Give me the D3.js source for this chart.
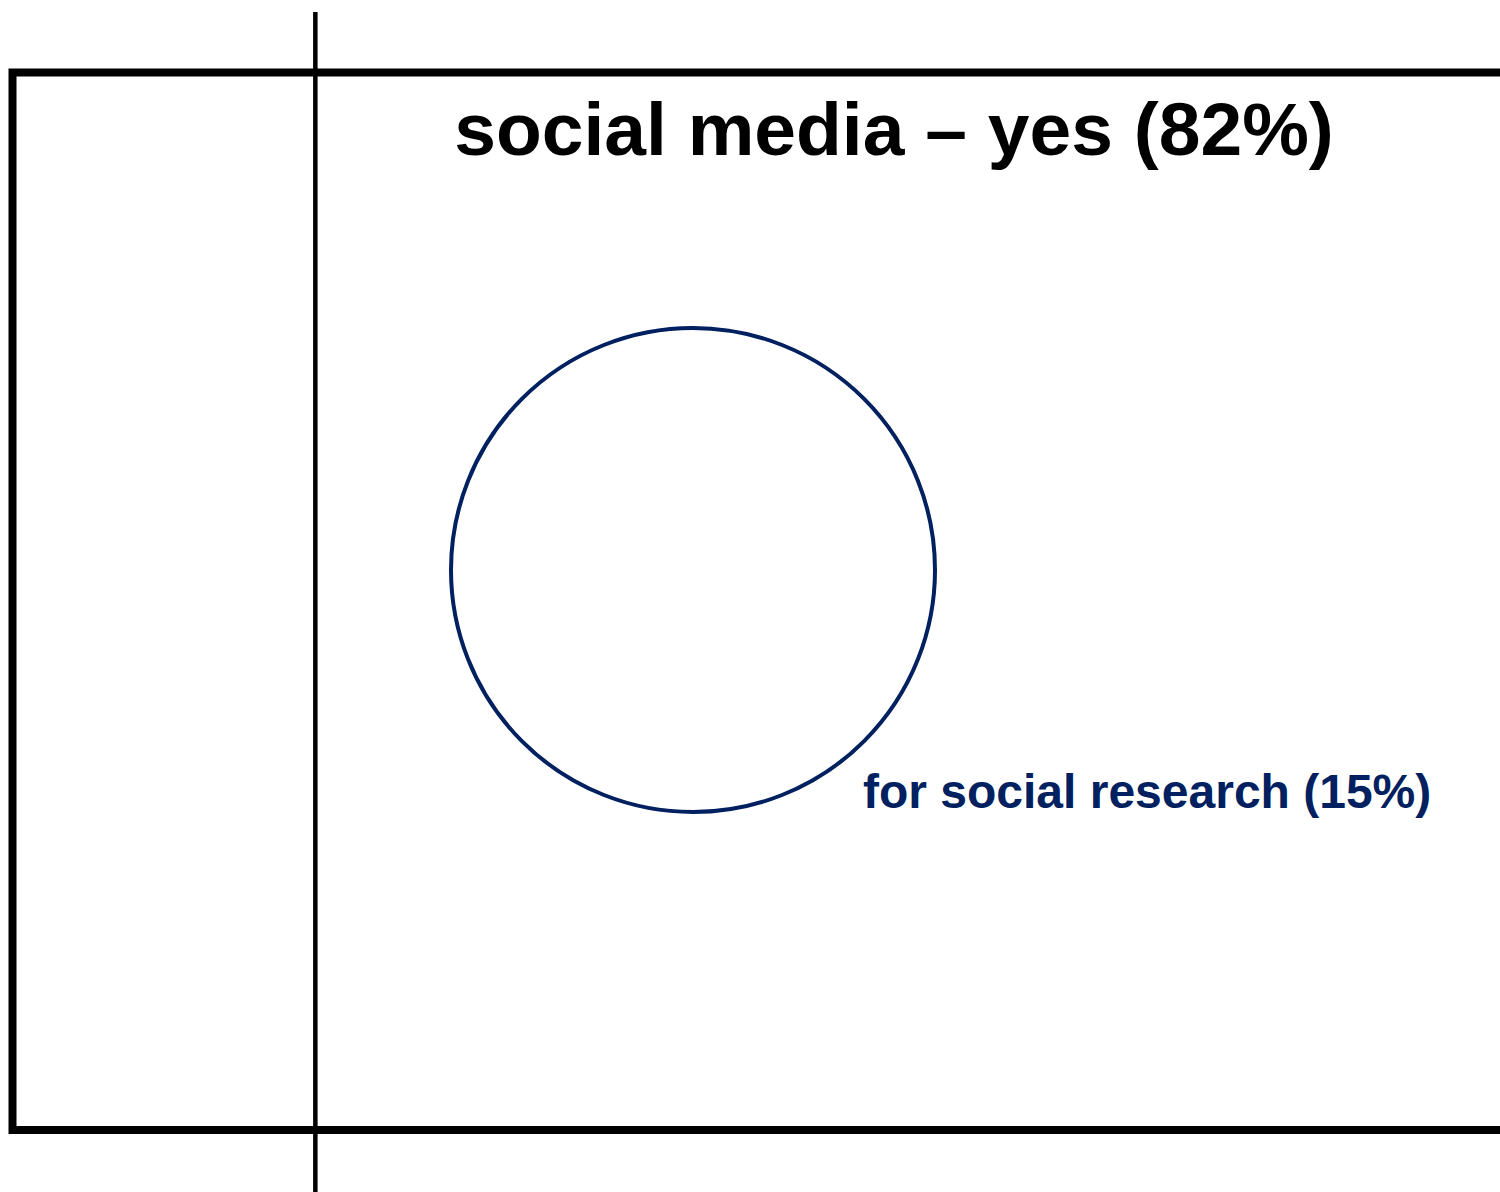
<!DOCTYPE html>
<html>
<head>
<meta charset="utf-8">
<script src="https://cdn.jsdelivr.net/npm/d3@7"></script>
<style>
body { margin: 0; background: #fff; }
</style>
</head>
<body>
<script>
// data
var groups = ["no", "yes"];
var shares = [18, 82];
var titleText = "social media \u2013 yes (82%)";
var subsets = ["for social research"];
var subsetShares = [15];

var width = 1500;
var height = 1192;
var navy = "#002060";

var canvas = d3.select("body")
            .append("svg")
            .attr("width", width)
            .attr("height", height);

// whole population runs off the right edge of the page
var x = d3.scaleLinear().domain([0, 100]).range([12.5, 1695]);
var y = d3.scaleLinear().domain([0, 1]).range([72.5, 1130]);

canvas.append("rect")
      .attr("x", x(0))
      .attr("y", y(0))
      .attr("width", x(100) - x(0))
      .attr("height", y(1) - y(0))
      .attr("fill", "none")
      .attr("stroke", "black")
      .attr("stroke-width", 8);

// divider between no / yes
var split = d3.cumsum(shares)[0];
canvas.append("line")
      .attr("x1", x(split))
      .attr("x2", x(split))
      .attr("y1", 12)
      .attr("y2", height)
      .attr("stroke", "black")
      .attr("stroke-width", 4.5);

canvas.append("text")
      .attr("x", 894)
      .attr("y", 155)
      .attr("text-anchor", "middle")
      .attr("font-family", "Liberation Sans, Arial, sans-serif")
      .attr("font-weight", "bold")
      .attr("font-size", 75)
      .attr("fill", "black")
      .text(titleText);

// circle for the subset
var r = d3.scaleSqrt().domain([0, 15]).range([0, 242]);
var circleG = canvas.append("g")
      .attr("transform", "translate(693, 570)");

circleG.selectAll("circle")
      .data(subsetShares)
      .join("circle")
      .attr("r", d => r(d))
      .attr("fill", "none")
      .attr("stroke", navy)
      .attr("stroke-width", 4);

canvas.selectAll("text.sub")
      .data(subsets)
      .join("text")
      .attr("class", "sub")
      .attr("x", 863)
      .attr("y", 808)
      .attr("font-family", "Liberation Sans, Arial, sans-serif")
      .attr("font-weight", "bold")
      .attr("font-size", 48)
      .attr("fill", navy)
      .text((d, i) => d + " (" + subsetShares[i] + "%)");
</script>
</body>
</html>
